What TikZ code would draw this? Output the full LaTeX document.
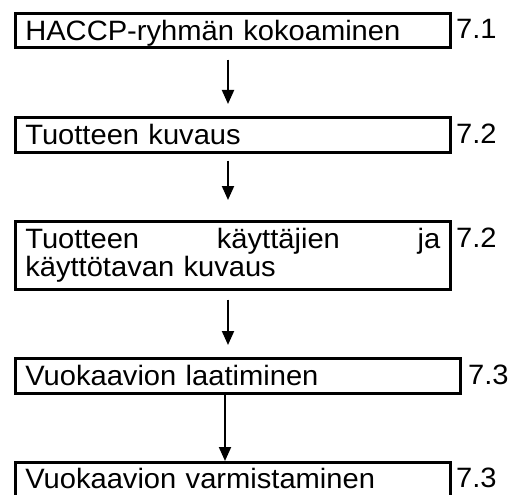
\documentclass[tikz,border=0pt]{standalone}
\usepackage{fontspec}
\setmainfont[FakeStretch=1.04]{Liberation Sans}
\usetikzlibrary{arrows.meta}
\begin{document}
\begin{tikzpicture}[x=1pt,y=-1pt,
  every node/.style={font=\fontsize{28}{26}\selectfont},
  box/.style={draw, line width=2.6pt, anchor=north west, inner xsep=10pt, inner ysep=0pt, align=left, minimum height=#1},
  one/.style={text height=22pt, text depth=2pt},
  lbl/.style={anchor=base west, inner sep=0pt},
  arr/.style={line width=2pt, -{Triangle[width=12pt,length=14pt]}}]
\clip (0,0) rectangle (510,494);
\useasboundingbox (0,0) rectangle (510,494);
\node[box=34pt, one, text width=415pt] (b1) at (14,12) {HACCP-ryhmän kokoaminen};
\node[box=35pt, one, text width=415pt] (b2) at (14,116) {Tuotteen kuvaus};
\node[box=68pt, text width=415pt] (b3) at (14,220) {\hbox to 415pt{Tuotteen\hfill käyttäjien\hfill ja}\\käyttötavan kuvaus};
\node[box=35pt, one, text width=425pt] (b4) at (14,357) {Vuokaavion laatiminen};
\node[box=0pt, text height=22pt, text depth=12pt, inner ysep=4pt, text width=415pt] (b5) at (14,461) {Vuokaavion varmistaminen};
\node[lbl] (l1) at (456,39) {7.1};
\node[lbl] (l2) at (456,143.5) {7.2};
\node[lbl] (l3) at (456,247) {7.2};
\node[lbl] (l4) at (468,384.5) {7.3};
\node[lbl] (l5) at (456,487) {7.3};
\coordinate (ax) at (228,0);
\coordinate (bx) at (225,0);
\draw[arr, shorten <=11pt, shorten >=12pt] (b1.south -| ax) -- (b2.north -| ax);
\draw[arr, shorten <=7pt, shorten >=20pt] (b2.south -| ax) -- (b3.north -| ax);
\draw[arr, shorten <=9pt, shorten >=12pt] (b3.south -| ax) -- (b4.north -| ax);
\draw[arr] (b4.south -| bx) -- (b5.north -| bx);
\end{tikzpicture}
\end{document}
